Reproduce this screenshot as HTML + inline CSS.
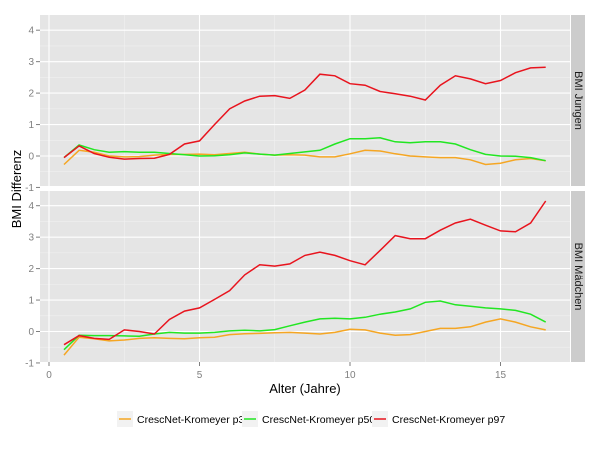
<!DOCTYPE html>
<html><head><meta charset="utf-8"><style>
body{margin:0;background:#fff;font-family:"Liberation Sans",sans-serif}
</style></head><body>
<svg width="600" height="450" xmlns="http://www.w3.org/2000/svg" id="svg" font-family="Liberation Sans, sans-serif"></svg>
<script>
const ages=[0.5,1,1.5,2,2.5,3,3.5,4,4.5,5,5.5,6,6.5,7,7.5,8,8.5,9,9.5,10,10.5,11,11.5,12,12.5,13,13.5,14,14.5,15,15.5,16,16.5];
const boysP3=[-0.27,0.18,0.12,0.0,-0.03,-0.02,0.03,0.05,0.05,0.06,0.04,0.08,0.12,0.06,0.03,0.04,0.03,-0.03,-0.03,0.07,0.18,0.16,0.07,0.0,-0.03,-0.05,-0.05,-0.12,-0.27,-0.23,-0.12,-0.08,-0.15];
const boysP50=[-0.05,0.35,0.2,0.12,0.14,0.12,0.12,0.08,0.04,0.0,0.01,0.04,0.1,0.06,0.03,0.08,0.13,0.18,0.38,0.55,0.55,0.58,0.45,0.42,0.45,0.45,0.38,0.2,0.05,0.0,-0.01,-0.05,-0.15];
const boysP97=[-0.05,0.32,0.08,-0.04,-0.1,-0.08,-0.07,0.05,0.38,0.48,1.0,1.5,1.75,1.9,1.92,1.83,2.1,2.6,2.55,2.3,2.25,2.05,1.98,1.9,1.78,2.25,2.55,2.45,2.3,2.4,2.65,2.8,2.82];
const girlsP3=[-0.75,-0.18,-0.23,-0.3,-0.27,-0.22,-0.2,-0.22,-0.23,-0.2,-0.18,-0.1,-0.07,-0.06,-0.04,-0.03,-0.05,-0.08,-0.03,0.07,0.05,-0.05,-0.12,-0.1,0.0,0.1,0.1,0.15,0.3,0.4,0.3,0.15,0.05];
const girlsP50=[-0.58,-0.12,-0.13,-0.13,-0.14,-0.15,-0.08,-0.03,-0.05,-0.05,-0.03,0.02,0.04,0.02,0.06,0.18,0.3,0.4,0.42,0.4,0.45,0.55,0.62,0.72,0.93,0.97,0.85,0.8,0.75,0.72,0.67,0.55,0.3];
const girlsP97=[-0.42,-0.13,-0.22,-0.25,0.05,0.0,-0.08,0.38,0.65,0.75,1.02,1.3,1.8,2.12,2.08,2.15,2.42,2.52,2.42,2.25,2.12,2.58,3.05,2.95,2.95,3.22,3.45,3.57,3.38,3.2,3.17,3.45,4.15];
const xTicks=[0,5,10,15];
const yTicks=[-1,0,1,2,3,4];
const seriesNames=["CrescNet-Kromeyer p3","CrescNet-Kromeyer p50","CrescNet-Kromeyer p97"];
const colors=["#f5a623","#22e622","#e8141e"];

const svg=document.getElementById('svg');
const NS="http://www.w3.org/2000/svg";
function mk(t,a,p){const e=document.createElementNS(NS,t);for(const k in a)e.setAttribute(k,a[k]);(p||svg).appendChild(e);return e;}
const PL=40,PR=570;
const xs=v=>49+v*30.1;
const panels=[{top:15,bot:186,y0:156,name:"BMI Jungen",data:[boysP3,boysP50,boysP97],dn:"panel-jungen"},
              {top:191,bot:362,y0:331.5,name:"BMI Mädchen",data:[girlsP3,girlsP50,girlsP97],dn:"panel-maedchen"}];
const U=31.45;
panels.forEach((p,pi)=>{
  const ys=v=>p.y0-v*U;
  const g=mk('g',{});
  
  
  mk('rect',{x:PL,y:p.top,width:PR-PL,height:p.bot-p.top,fill:'#e5e5e5'},g);
  for(let v=-0.5;v<=4.5;v+=1){const y=ys(v);if(y>p.top&&y<p.bot)mk('line',{x1:PL,x2:PR,y1:y,y2:y,stroke:'#f2f2f2','stroke-width':0.5},g);}
  [2.5,7.5,12.5,17.5].forEach(v=>{const x=xs(v);if(x<PR)mk('line',{x1:x,x2:x,y1:p.top,y2:p.bot,stroke:'#f2f2f2','stroke-width':0.5},g);});
  yTicks.forEach(v=>{const y=ys(v);
    mk('line',{x1:PL,x2:PR,y1:y,y2:y,stroke:'#fff','stroke-width':1.1},g);
    mk('line',{x1:PL-4,x2:PL,y1:y,y2:y,stroke:'#7f7f7f','stroke-width':1},g);
    const t=mk('text',{x:PL-6,y:y+3.5,'text-anchor':'end','font-size':10,fill:'#7f7f7f'},g);t.textContent=v;
    });
  xTicks.forEach(v=>{const x=xs(v);mk('line',{x1:x,x2:x,y1:p.top,y2:p.bot,stroke:'#fff','stroke-width':1.1},g);});
  p.data.forEach((d,si)=>{
    const pts=ages.map((a,i)=>xs(a).toFixed(1)+','+ys(d[i]).toFixed(1)).join(' ');
    const l=mk('polyline',{points:pts,fill:'none',stroke:colors[si],'stroke-width':1.5},g);
    
    
  });
  const s=mk('rect',{x:PR+1,y:p.top,width:14,height:p.bot-p.top,fill:'#cccccc'},g);
  
  const cy=(p.top+p.bot)/2;
  const st=mk('text',{x:PR+8,y:cy,transform:`rotate(90 ${PR+8} ${cy})`,'text-anchor':'middle','dominant-baseline':'central','font-size':11,fill:'#1a1a1a'},g);
  st.textContent=p.name;
});
xTicks.forEach(v=>{const x=xs(v);
  mk('line',{x1:x,x2:x,y1:362,y2:366,stroke:'#7f7f7f'});
  const t=mk('text',{x:x,y:378,'text-anchor':'middle','font-size':10,fill:'#7f7f7f'});t.textContent=v;
  });
const xt=mk('text',{x:305,y:393,'text-anchor':'middle','font-size':13,fill:'#000'});xt.textContent='Alter (Jahre)';

const yt=mk('text',{x:21,y:189,transform:'rotate(-90 21 189)','text-anchor':'middle','font-size':13,fill:'#000'});yt.textContent='BMI Differenz';

const lx=[117,242,372];
seriesNames.forEach((n,i)=>{
  const g=mk('g',{});
  
  
  mk('rect',{x:lx[i],y:411,width:16,height:16,fill:'#f2f2f2'},g);
  mk('line',{x1:lx[i]+2,x2:lx[i]+14,y1:419,y2:419,stroke:colors[i],'stroke-width':1.5},g);
  const t=mk('text',{x:lx[i]+20,y:423,'font-size':10.5,fill:'#000'},g);t.textContent=n;
});
</script>
</body></html>
